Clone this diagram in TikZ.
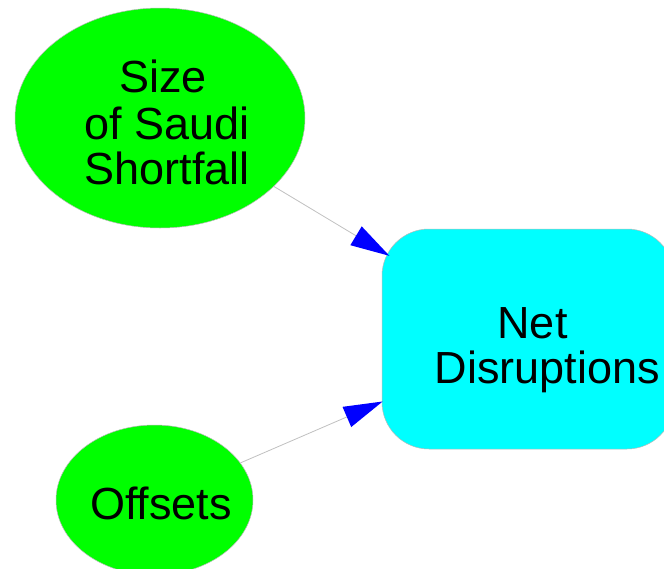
\documentclass[tikz,border=0pt]{standalone}
\usepackage{fontspec}
\setmainfont{Liberation Sans}
\usetikzlibrary{shapes.geometric,arrows.meta}
\definecolor{nodegreen}{HTML}{00FF00}
\definecolor{nodecyan}{HTML}{00FFFF}
\definecolor{tipblue}{HTML}{0000FF}
\definecolor{edgegray}{HTML}{C0C0C0}
\tikzset{
  factor/.style={ellipse, fill=nodegreen, draw=gray!55, line width=0.5pt, inner sep=0pt},
  result/.style={rectangle, rounded corners=47pt, fill=nodecyan, draw=gray!55, line width=0.5pt, inner sep=0pt},
  txt/.style={anchor=base, inner sep=0pt, font=\fontsize{45}{46}\selectfont},
  link/.style={draw=edgegray, line width=0.8pt, -{Triangle[length=39pt,width=22pt,fill=tipblue,color=tipblue,line width=0pt]}}
}
\begin{document}
\begin{tikzpicture}[x=1pt,y=-1pt]
  \useasboundingbox (0,0) rectangle (664,568);
  \clip (0,0) rectangle (664,568);

  % shapes
  \node[factor, minimum width=290pt, minimum height=220pt] (size) at (160,118) {};
  \node[factor, minimum width=197pt, minimum height=150pt] (offsets) at (154.5,500) {};
  \node[result, minimum width=292pt, minimum height=220pt] (net) at (528,339) {};

  % labels
  \node[txt] (size1) at (163,92) {Size};
  \node[txt] (size2) at (167,139) {of Saudi};
  \node[txt] (size3) at (167,184) {Shortfall};
  \node[txt] (off1) at (161,519) {Offsets};
  \node[txt] (net1) at (532.5,338) {Net};
  \node[txt] (net2) at (547.5,383) {Disruptions};

  % influences
  \draw[link, shorten >=-9pt] (size) -- (net);
  \draw[link, shorten >=-1pt] (offsets) -- (net);
\end{tikzpicture}
\end{document}
